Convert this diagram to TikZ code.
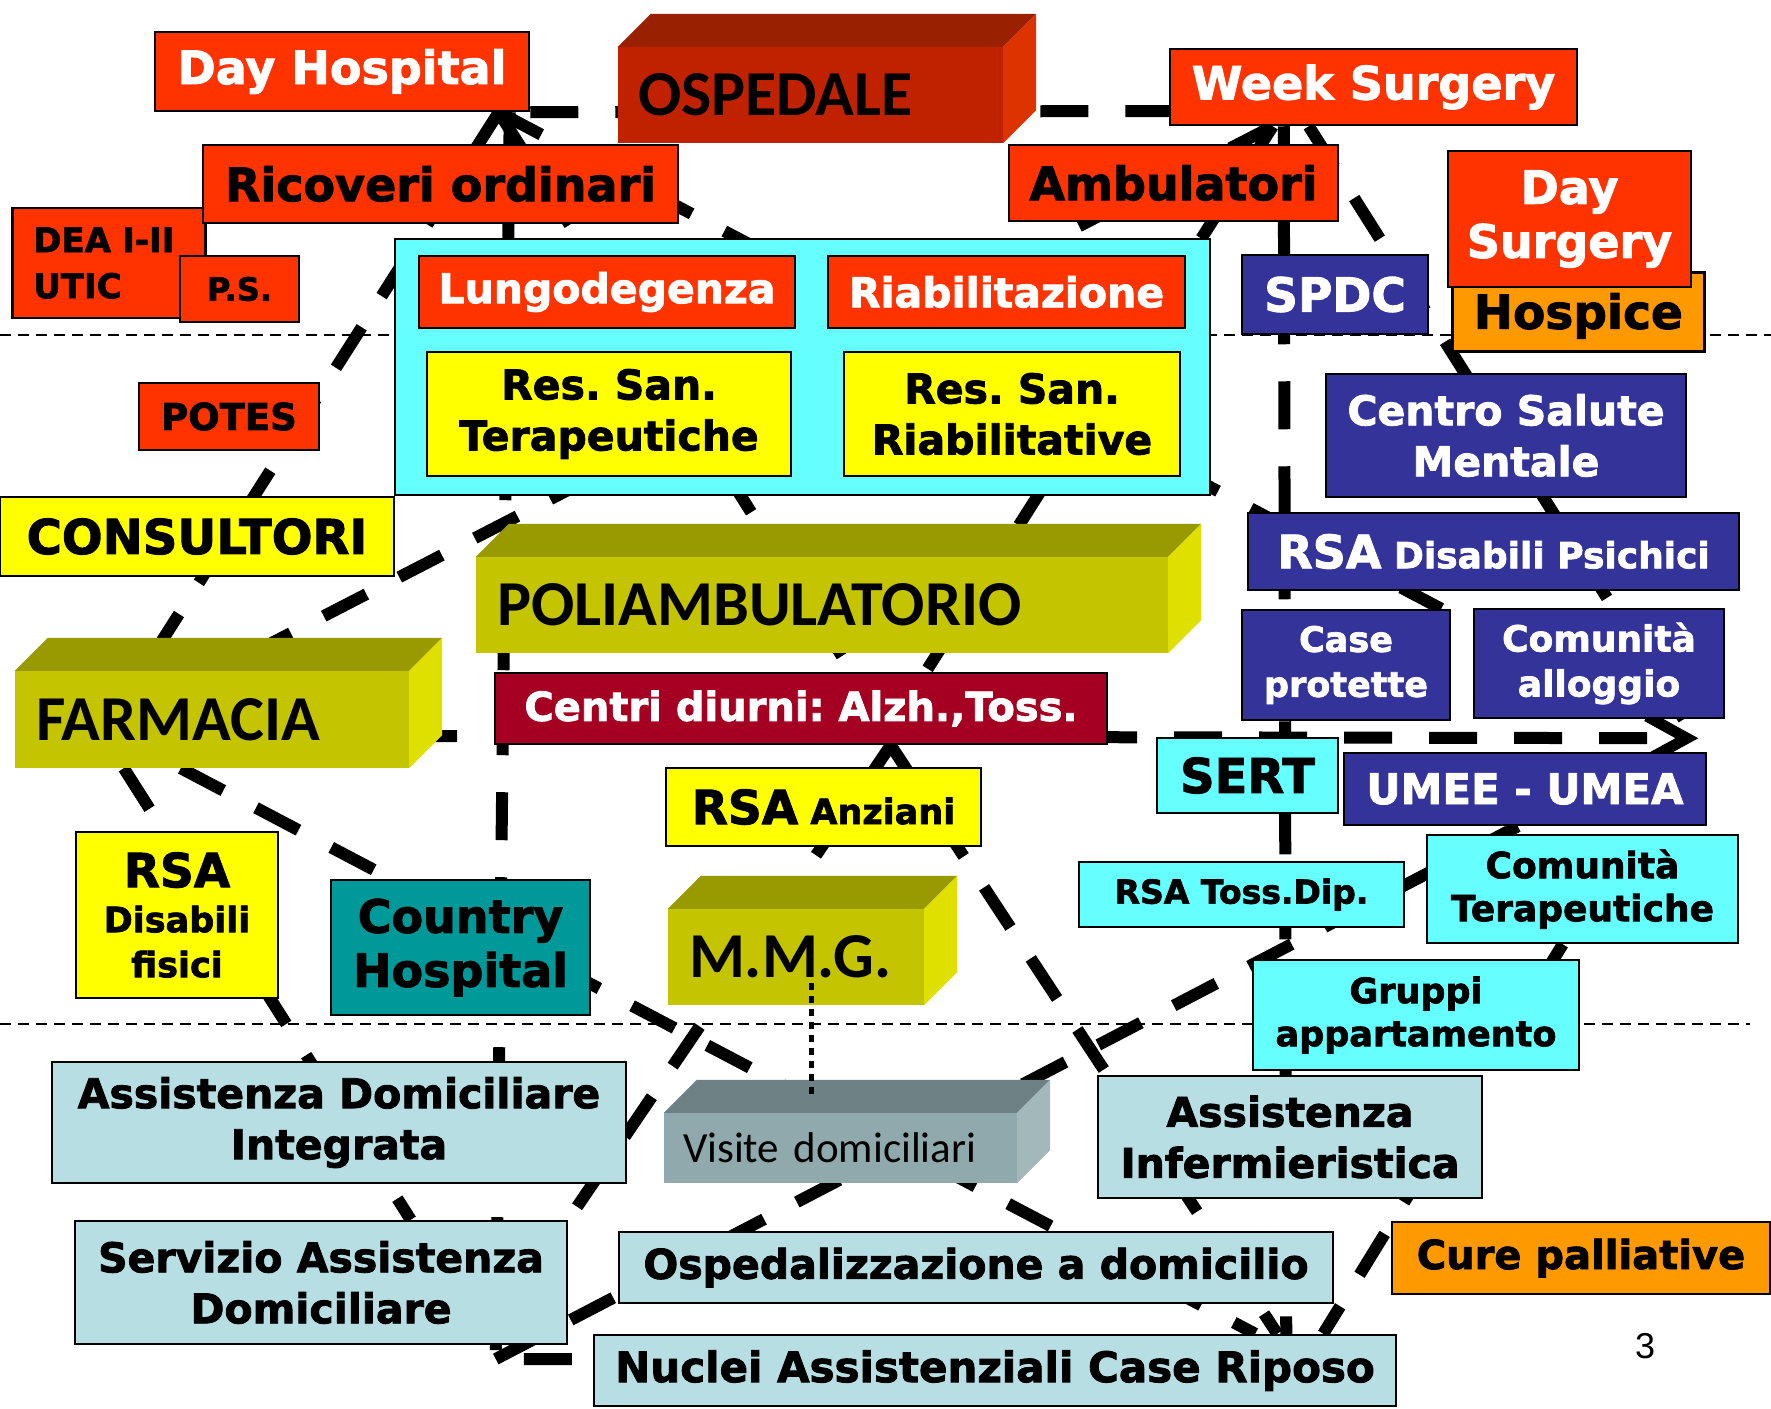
\documentclass[tikz,border=0pt]{standalone}
\usepackage{fontspec}
\setmainfont{DejaVu Sans}[BoldFeatures={FakeBold=2}]
\newfontfamily\calfont{Carlito}
\newfontfamily\pagefont{Liberation Sans}
\usetikzlibrary{arrows.meta,calc}
\pgfdeclarelayer{background}
\pgfsetlayers{background,main}
\newcommand\fsz[2]{\fontsize{#1}{#2}\selectfont}
\frenchspacing
\definecolor{hred}{HTML}{FF3300}
\definecolor{hyellow}{HTML}{FFFF00}
\definecolor{hcyan}{HTML}{66FFFF}
\definecolor{hblue}{HTML}{333399}
\definecolor{hlight}{HTML}{B7DEE3}
\definecolor{horange}{HTML}{FF9900}
\definecolor{hwine}{HTML}{A50021}
\definecolor{hteal}{HTML}{009999}
\definecolor{ospfront}{HTML}{C02200}
\definecolor{osptop}{HTML}{992000}
\definecolor{ospside}{HTML}{DD3300}
\definecolor{olfront}{HTML}{C4C400}
\definecolor{oltop}{HTML}{999900}
\definecolor{olside}{HTML}{E0E000}
\definecolor{visfront}{HTML}{8FA9AC}
\definecolor{vistop}{HTML}{6E8285}
\definecolor{visside}{HTML}{A3B8BA}
\begin{document}
\begin{tikzpicture}[
    x=1pt, y=-1pt,
    box/.style={
        draw=black,
        line width=2.5pt,
        inner sep=0pt,
        align=center
    },
    redbox/.style={box, fill=hred},
    yelbox/.style={box, fill=hyellow},
    cyabox/.style={box, fill=hcyan},
    blubox/.style={box, fill=hblue, text=white},
    ltbox/.style={box, fill=hlight},
    orabox/.style={box, fill=horange},
    block3d/.style={
        inner ysep=0pt,
        inner xsep=21pt,
        align=left,
        font=\calfont\bfseries\fsz{64}{70}
    },
    big/.style={font=\fsz{46}{54}\bfseries},
    mid/.style={font=\fsz{41}{51}\bfseries},
    link/.style={line width=12pt, dash pattern=on 48pt off 37pt},
    sepline/.style={line width=2.5pt, dash pattern=on 11pt off 7pt}
]
\useasboundingbox (0,0) rectangle (1771,1408);

% Ospedale
\node[redbox, text=white, big, minimum width=374, minimum height=79] (dayhosp) at (342,71.5) {Day Hospital};
\node[block3d, fill=ospfront, inner xsep=20pt, text width=345pt, minimum height=96] (ospedale) at (810.5,95) {OSPEDALE};
\node[redbox, text=white, big, minimum width=407, minimum height=76] (weeksurg) at (1373.5,87) {Week Surgery};
\node[redbox, anchor=west, inner xsep=21pt, text width=151pt, minimum height=110, align=left, font=\fsz{34}{46}\bfseries] (dea) at (11,263) {DEA I-II\\UTIC};
\node[redbox, big, minimum width=475, minimum height=78] (ricoveri) at (440.5,184) {Ricoveri ordinari};
\node[redbox, minimum width=119, minimum height=66, font=\fsz{32}{40}\bfseries] (ps) at (239.5,289) {P.S.};
\node[redbox, big, minimum width=329, minimum height=76] (ambulatori) at (1173.5,183) {Ambulatori};
\node[orabox, anchor=north west, minimum width=252, text height=56.5pt, text depth=22.5pt, font=\fsz{47}{54}\bfseries] (hospice) at (1451,271) {Hospice};
\node[redbox, text=white, big, minimum width=243, minimum height=136] (daysurg) at (1569.5,219) {Day\\Surgery};

% Residenze
\node[cyabox, minimum width=815, minimum height=256] (resframe) at (802.5,367) {};
\node[redbox, text=white, mid, minimum width=376, minimum height=72] (lungo) at (607,292) {Lungodegenza};
\node[redbox, text=white, mid, minimum width=357, minimum height=72] (riab) at (1006.5,292) {Riabilitazione};
\node[yelbox, mid, minimum width=364, minimum height=124] (rester) at (609,414) {Res. San.\\Terapeutiche};
\node[yelbox, mid, minimum width=336, minimum height=124] (resriab) at (1012,414) {Res. San.\\Riabilitative};

% Salute mentale
\node[blubox, minimum width=186, minimum height=79, font=\fsz{47}{54}\bfseries] (spdc) at (1335,294.5) {SPDC};
\node[blubox, mid, minimum width=360, minimum height=123] (csm) at (1506,435.5) {Centro Salute\\Mentale};
\node[blubox, minimum width=491, minimum height=77, font=\fsz{36}{44}\bfseries] (rsadp) at (1493.5,551.5) {{\fsz{46}{44}RSA} Disabili Psichici};
\node[blubox, minimum width=208, minimum height=110, font=\fsz{35}{45}\bfseries] (caseprot) at (1346,665) {Case\\protette};
\node[blubox, minimum width=250, minimum height=109, font=\fsz{36}{45}\bfseries] (comall) at (1599,663.5) {Comunità\\alloggio};

% Territorio
\node[redbox, minimum width=180, minimum height=67, font=\fsz{37}{44}\bfseries] (potes) at (229,416.5) {POTES};
\node[yelbox, minimum width=394, minimum height=79, font=\fsz{48}{54}\bfseries] (consultori) at (197,536.5) {CONSULTORI};
\node[block3d, fill=olfront, text width=650pt, minimum height=96] (poliamb) at (822,605) {POLIAMBULATORIO};
\node[block3d, fill=olfront, text width=352pt, minimum height=97] (farmacia) at (212,719.5) {FARMACIA};
\node[box, fill=hwine, text=white, minimum width=612, minimum height=71, font=\fsz{40}{46}\bfseries] (centri) at (801,708.5) {Centri diurni: Alzh.,Toss.};
\node[cyabox, minimum width=181, minimum height=75, font=\fsz{48}{54}\bfseries] (sert) at (1247.5,775.5) {SERT};
\node[blubox, minimum width=362, minimum height=72, font=\fsz{42}{48}\bfseries] (umee) at (1525,789) {UMEE - UMEA};
\node[yelbox, minimum width=315, minimum height=78, font=\fsz{35}{44}\bfseries] (rsaanz) at (823.5,807) {{\fsz{47}{44}RSA} Anziani};
\node[yelbox, minimum width=202, minimum height=166, font=\fsz{35}{45}\bfseries] (rsadf) at (177,915) {{\fsz{47}{45}RSA}\\Disabili\\fisici};
\node[box, fill=hteal, big, minimum width=259, minimum height=135] (country) at (460.5,947.5) {Country\\Hospital};
\node[block3d, fill=olfront, text width=214pt, minimum height=96] (mmg) at (796,957) {M.M.G.};
\node[cyabox, minimum width=325, minimum height=65, font=\fsz{33}{40}\bfseries] (rsatd) at (1241.5,894.5) {RSA Toss.Dip.};
\node[cyabox, minimum width=311, minimum height=108, font=\fsz{36}{43}\bfseries] (comter) at (1582.5,889) {Comunità\\Terapeutiche};
\node[cyabox, minimum width=326, minimum height=110, font=\fsz{35}{43}\bfseries] (gruppi) at (1416,1015) {Gruppi\\appartamento};

% Domicilio
\node[ltbox, mid, minimum width=574, minimum height=121] (adi) at (339,1122.5) {Assistenza Domiciliare\\Integrata};
\node[block3d, fill=visfront, inner xsep=19pt, text width=315pt, minimum height=70, font=\calfont\fsz{43}{48}] (visite) at (840.5,1148) {Visite domiciliari};
\node[ltbox, mid, minimum width=384, minimum height=122] (assinf) at (1290,1137) {Assistenza\\Infermieristica};
\node[ltbox, mid, minimum width=492, minimum height=123] (sad) at (321,1282.5) {Servizio Assistenza\\Domiciliare};
\node[ltbox, mid, minimum width=714, minimum height=71] (osped) at (976,1267.5) {Ospedalizzazione a domicilio};
\node[orabox, minimum width=378, minimum height=72, font=\fsz{40}{46}\bfseries] (cure) at (1581,1258) {Cure palliative};
\node[ltbox, minimum width=802, minimum height=71, font=\fsz{42}{48}\bfseries] (nuclei) at (995,1370.5) {Nuclei Assistenziali Case Riposo};
\node[font=\pagefont\fsz{36}{40}] (pagenum) at (1645,1346) {3};

% 3D faces
\foreach \b/\t/\s in {ospedale/osptop/ospside, poliamb/oltop/olside, farmacia/oltop/olside, mmg/oltop/olside, visite/vistop/visside} {
    \fill[\t] (\b.north west) -- ++(33,-33) -- ([shift={(33,-33)}]\b.north east) -- (\b.north east) -- cycle;
    \fill[\s] (\b.north east) -- ++(33,-33) -- ([shift={(33,-33)}]\b.south east) -- (\b.south east) -- cycle;
}

\draw[line width=5pt, dash pattern=on 7pt off 6pt] ([xshift=15pt,yshift=22pt]mmg.south) -- ([xshift=-29.5pt,yshift=16pt]visite.north);

% Junctions
\coordinate (dhfoot) at ([xshift=345pt]dayhosp.south west);
\coordinate (wsfoot) at ([xshift=104pt]weeksurg.south west);
\coordinate (cdfoot) at ([xshift=397pt]centri.south west);
\coordinate (bend) at ([xshift=-97pt,yshift=11.5pt]nuclei.west);
\coordinate (tip) at ([xshift=-27pt,yshift=-19pt]comall.south east);

\begin{pgfonlayer}{background}
\fill[white] (0,0) rectangle (1771,1408);
\draw[sepline] (0,335) -- (1771,335);
\draw[sepline] (0,1024) -- (1750,1024);

% Links
\draw[link] (dhfoot) -- ([xshift=128pt]farmacia.north west);
\draw[link] (dhfoot) -- ([xshift=358pt]centri.north west);
\draw[link] (dhfoot) -- ([xshift=-10pt]caseprot.north east);
\draw[link] ([xshift=356pt]dayhosp.south west) -- (bend) -- ([yshift=11.5pt]nuclei.west);
\draw[link] (dayhosp.south east) -- ([yshift=-24pt]weeksurg.west);
\draw[link] (wsfoot) -- ([xshift=203pt]farmacia.north west);
\draw[link] (wsfoot) -- ([xshift=432pt]centri.north west);
\draw[link] ([xshift=115pt]weeksurg.south west) -- ([xshift=-111pt]nuclei.north east);
\draw[link] ([xshift=140pt]weeksurg.south west) -- ([xshift=211pt]comall.south west);
\draw[link, -{Straight Barb[length=40pt,width=44pt,line width=11pt]}] ([yshift=-16.5pt]farmacia.east) -- (tip);
\draw[link] (cdfoot) -- (sad.north east);
\draw[link] (cdfoot) -- ([xshift=-120pt]nuclei.north east);
\draw[link] ([xshift=166pt]farmacia.south west) -- ([xshift=-142pt]nuclei.north east);
\draw[link] ([xshift=109pt]farmacia.south west) -- ([xshift=337pt]sad.north west);
\draw[link] ([xshift=175pt]umee.south west) -- (bend);
\draw[link] ([xshift=137pt]comter.south west) -- ([xshift=-74pt]nuclei.north east);
\end{pgfonlayer}

\end{tikzpicture}
\end{document}
